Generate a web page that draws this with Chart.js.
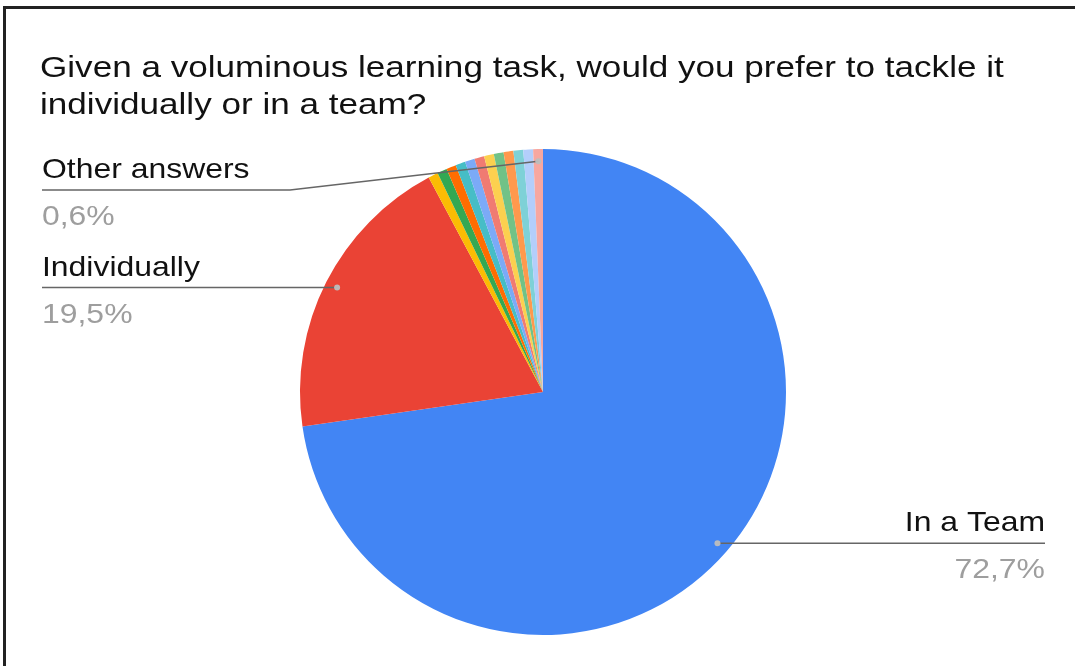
<!DOCTYPE html>
<html>
<head>
<meta charset="utf-8">
<script src="https://cdn.jsdelivr.net/npm/chart.js@4.4.1/dist/chart.umd.min.js"></script>
<style>
  html, body { margin: 0; padding: 0; background: #fff; }
  #wrap { position: relative; width: 1075px; height: 666px; overflow: hidden; }
  #frame {
    position: absolute; left: 3px; top: 6px; right: -10px; bottom: -10px;
    border-top: 3px solid #222; border-left: 3px solid #222;
    pointer-events: none;
  }
  canvas { position: absolute; left: 0; top: 0; }
</style>
</head>
<body>
<div id="wrap">
  <canvas id="pie" width="1075" height="666"></canvas>
  <div id="frame"></div>
</div>
<script>
const title = ['Given a voluminous learning task, would you prefer to tackle it', 'individually or in a team?'];

const answers = [
  'In a Team', 'Individually',
  'Other answer 1', 'Other answer 2', 'Other answer 3', 'Other answer 4',
  'Other answer 5', 'Other answer 6', 'Other answer 7', 'Other answer 8',
  'Other answer 9', 'Other answer 10', 'Other answer 11', 'Other answers'
];
const responses = [112, 30, 1, 1, 1, 1, 1, 1, 1, 1, 1, 1, 1, 1];

const sliceColors = [
  '#4285F4', '#EA4335', '#FBBC04', '#34A853', '#FF6D01', '#46BDC6', '#7BAAF7',
  '#F07B72', '#FCD04F', '#71C287', '#FF994D', '#7ED1D7', '#B3CEFB', '#F7A7A0'
];

const TITLE_FONT = '30px "Liberation Sans", Arial, sans-serif';
const LABEL_FONT = '28px "Liberation Sans", Arial, sans-serif';

// text drawn slightly wider, like the sheets export
function wideText(ctx, str, x, y, align, stretch) {
  const w = ctx.measureText(str).width * stretch;
  const left = align === 'right' ? x - w : x;
  ctx.save();
  ctx.translate(left, y);
  ctx.scale(stretch, 1);
  ctx.textAlign = 'left';
  ctx.fillText(str, 0, 0);
  ctx.restore();
}

// outside labels with leader lines
const calloutPlugin = {
  id: 'callouts',
  afterDraw(chart, args, opts) {
    const ctx = chart.ctx;
    const meta = chart.getDatasetMeta(0);
    const vals = chart.data.datasets[0].data;
    const total = vals.reduce((a, b) => a + b, 0);

    ctx.save();
    ctx.font = TITLE_FONT;
    ctx.fillStyle = '#111';
    ctx.textBaseline = 'alphabetic';
    title.forEach((line, i) => wideText(ctx, line, 40, 77 + i * 37, 'left', 1.17));

    ctx.font = LABEL_FONT;
    opts.items.forEach(item => {
      const arc = meta.data[item.index];
      const p = arc.getProps(['x', 'y', 'startAngle', 'endAngle', 'outerRadius'], true);
      const mid = (p.startAngle + p.endAngle) / 2;
      const dx = p.x + Math.cos(mid) * p.outerRadius * 0.95;
      const dy = p.y + Math.sin(mid) * p.outerRadius * 0.95;
      const lineY = item.lineY ?? dy;

      ctx.strokeStyle = '#666';
      ctx.lineWidth = 1.5;
      ctx.beginPath();
      ctx.moveTo(dx, dy);
      if (item.elbowX !== undefined) ctx.lineTo(item.elbowX, lineY);
      ctx.lineTo(item.textX, lineY);
      ctx.stroke();

      ctx.fillStyle = 'rgba(190,190,190,0.95)';
      ctx.beginPath();
      ctx.arc(dx, dy, 3, 0, Math.PI * 2);
      ctx.fill();

      const pct = (vals[item.index] / total * 100).toFixed(1).replace('.', ',') + '%';
      ctx.fillStyle = '#111';
      wideText(ctx, chart.data.labels[item.index], item.textX, lineY - 12, item.align, 1.14);
      ctx.fillStyle = '#9e9e9e';
      wideText(ctx, pct, item.textX, lineY + 35, item.align, 1.14);
    });
    ctx.restore();
  }
};

new Chart(document.getElementById('pie'), {
  type: 'pie',
  data: {
    labels: answers,
    datasets: [{
      data: responses,
      backgroundColor: sliceColors,
      borderWidth: 0
    }]
  },
  options: {
    responsive: false,
    animation: false,
    layout: { padding: { top: 149, bottom: 31, left: 300, right: 289 } },
    plugins: {
      legend: { display: false },
      tooltip: { enabled: false },
      callouts: {
        items: [
          { index: 0, textX: 1045, align: 'right' },
          { index: 1, textX: 42, align: 'left' },
          { index: 13, textX: 42, align: 'left', lineY: 190, elbowX: 290 }
        ]
      }
    }
  },
  plugins: [calloutPlugin]
});
</script>
</body>
</html>
